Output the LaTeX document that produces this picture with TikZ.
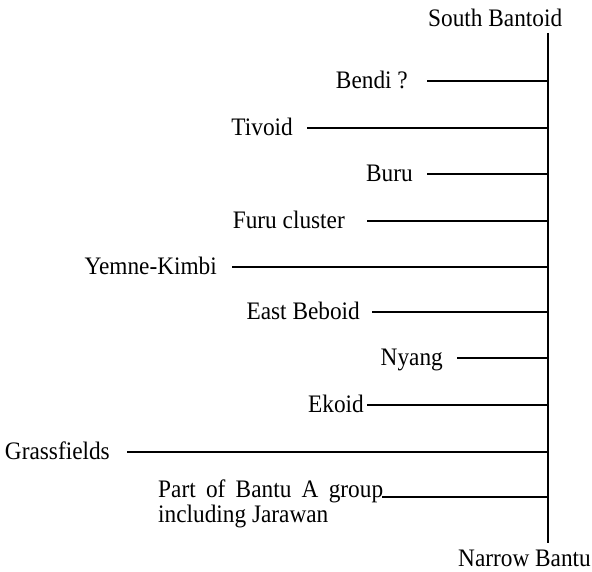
\documentclass[tikz,border=0pt]{standalone}
\usepackage{graphicx}
\usepackage{fontspec}
\setmainfont{Liberation Serif}
\newcommand{\vstr}[1]{\scalebox{1}[1.08]{#1}}
\begin{document}
\begin{tikzpicture}[x=1pt,y=-1pt,
  lab/.style={inner sep=0pt,anchor=base east,font=\fontsize{23.3}{25}\selectfont},
  trunk/.style={line width=2pt},
  branch/.style={line width=1.5pt}]
\useasboundingbox (0,0) rectangle (592,572);
% trunk
\node[lab,anchor=base west] (sb) at (428,26.5) {\vstr{South Bantoid}};
\node[lab,anchor=base west] (nb) at (458,566) {\vstr{Narrow Bantu}};
\coordinate (top) at (548,33);
\coordinate (bot) at (548,543);
\draw[trunk] (top) -- (bot);
% branches
\node[lab] (bendi) at (408,89) {\vstr{Bendi ?}};
\coordinate (bendiL) at (427,81); \coordinate (bendiR) at (548,81);
\draw[branch] (bendiL) -- (bendiR);
\node[lab] (tivoid) at (293,135.5) {\vstr{Tivoid}};
\coordinate (tivoidL) at (307,128); \coordinate (tivoidR) at (548,128);
\draw[branch] (tivoidL) -- (tivoidR);
\node[lab] (buru) at (413,181.5) {\vstr{Buru}};
\coordinate (buruL) at (427,174); \coordinate (buruR) at (548,174);
\draw[branch] (buruL) -- (buruR);
\node[lab] (furu) at (345,228.5) {\vstr{Furu cluster}};
\coordinate (furuL) at (367,221); \coordinate (furuR) at (548,221);
\draw[branch] (furuL) -- (furuR);
\node[lab] (yemne) at (217,274.5) {\vstr{Yemne-Kimbi}};
\coordinate (yemneL) at (232,267); \coordinate (yemneR) at (548,267);
\draw[branch] (yemneL) -- (yemneR);
\node[lab] (beboid) at (360,319.5) {\vstr{East Beboid}};
\coordinate (beboidL) at (372,312); \coordinate (beboidR) at (548,312);
\draw[branch] (beboidL) -- (beboidR);
\node[lab] (nyang) at (443,365.5) {\vstr{Nyang}};
\coordinate (nyangL) at (457,358); \coordinate (nyangR) at (548,358);
\draw[branch] (nyangL) -- (nyangR);
\node[lab] (ekoid) at (364,412.5) {\vstr{Ekoid}};
\coordinate (ekoidL) at (367,405); \coordinate (ekoidR) at (548,405);
\draw[branch] (ekoidL) -- (ekoidR);
\node[lab] (grass) at (110,459.5) {\vstr{Grassfields}};
\coordinate (grassL) at (127,452); \coordinate (grassR) at (548,452);
\draw[branch] (grassL) -- (grassR);
\node[lab,anchor=base west] (bantuA) at (158,497)
  {\vstr{\parbox[t]{225pt}{\fontsize{23.3}{24}\selectfont Part of Bantu A group including Jarawan}}};
\coordinate (bantuAL) at (382,497); \coordinate (bantuAR) at (548,497);
\draw[branch] (bantuAL) -- (bantuAR);
\end{tikzpicture}
\end{document}
